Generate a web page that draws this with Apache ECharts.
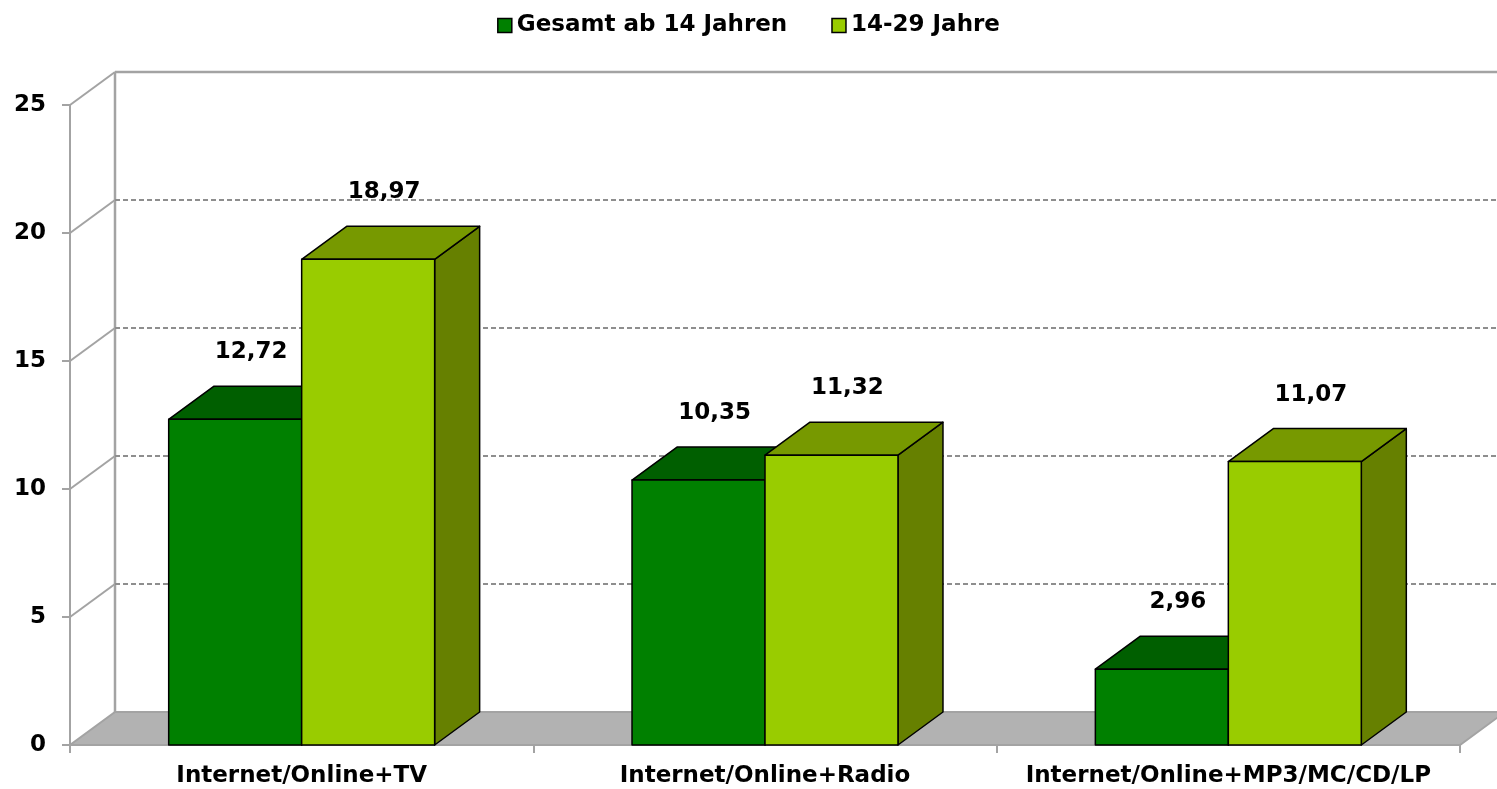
<!DOCTYPE html>
<html>
<head>
<meta charset="utf-8">
<title>Internet parallel</title>
<script src="https://cdn.jsdelivr.net/npm/echarts@6/dist/echarts.min.js"></script>
<style>
	* { margin: 0; padding: 0; }
	#main { width: 1497px; height: 789px; }
</style>
</head>
<body>
<div id="main"></div>
<script>
// Daten
var categories = ['Internet/Online+TV', 'Internet/Online+Radio', 'Internet/Online+MP3/MC/CD/LP'];
var seriesNames = ['Gesamt ab 14 Jahren', '14-29 Jahre'];
var gesamt = [12.72, 10.35, 2.96];
var jung = [18.97, 11.32, 11.07];
var yTicks = [0, 5, 10, 15, 20, 25];

// 3D-Tiefe und Balkenbreite
var DX = 45, DY = 33;
var BAR = 0.287;
var FONT = 'DejaVu Sans';
var FS = 23;
var GREY = '#a3a3a3';

function fmt(v) {
	return v.toFixed(2).replace('.', ',');
}

// Wände, Boden und Gitterlinien
function renderWall(params, api) {
	var cs = params.coordSys;
	var v = api.value(1);
	var y = api.coord([0, v])[1];
	var x0 = cs.x, x1 = cs.x + cs.width;
	var children = [];
	if (v === 0) {
		children.push({
			type: 'polygon',
			shape: { points: [[x0, y], [x1, y], [x1 + DX, y - DY], [x0 + DX, y - DY]] },
			style: { fill: '#b2b2b2', stroke: GREY, lineWidth: 2 }
		});
		children.push({
			type: 'line',
			shape: { x1: x0 + DX, y1: y - DY, x2: x0 + DX, y2: cs.y - DY },
			style: { stroke: GREY, lineWidth: 2.5 }
		});
	} else {
		var top = v === yTicks[yTicks.length - 1];
		children.push({
			type: 'line',
			shape: { x1: x0, y1: y, x2: x0 + DX, y2: y - DY },
			style: { stroke: GREY, lineWidth: 2 }
		});
		children.push({
			type: 'line',
			shape: { x1: x0 + DX, y1: y - DY, x2: x1 + DX + 10, y2: y - DY },
			style: top ? { stroke: GREY, lineWidth: 2.5 } : { stroke: '#8e8e8e', lineWidth: 2, lineDash: [5, 3] }
		});
	}
	return { type: 'group', children: children };
}

// Balken als Quader
function makeBar(side, front, topC, rightC) {
	return function (params, api) {
		var cat = api.value(0), val = api.value(1);
		var p = api.coord([cat, val]);
		var b = api.coord([cat, 0]);
		var w = api.size([1, 0])[0] * BAR;
		var x0 = side < 0 ? p[0] - w : p[0];
		var x1 = x0 + w, yt = p[1], yb = b[1];
		var edge = { stroke: '#000', lineWidth: 1.5, lineJoin: 'round' };
		return {
			type: 'group',
			children: [
				{
					type: 'polygon',
					shape: { points: [[x1, yb], [x1 + DX, yb - DY], [x1 + DX, yt - DY], [x1, yt]] },
					style: Object.assign({ fill: rightC }, edge)
				},
				{
					type: 'polygon',
					shape: { points: [[x0, yt], [x0 + DX, yt - DY], [x1 + DX, yt - DY], [x1, yt]] },
					style: Object.assign({ fill: topC }, edge)
				},
				{
					type: 'rect',
					shape: { x: x0, y: yt, width: w, height: yb - yt },
					style: Object.assign({ fill: front }, edge)
				},
				{
					type: 'text',
					style: {
						text: fmt(val),
						x: (x0 + x1) / 2 + 16,
						y: yt - 67,
						align: 'center',
						verticalAlign: 'middle',
						fill: '#000',
						font: 'bold ' + FS + 'px "' + FONT + '"'
					}
				}
			]
		};
	};
}

var myChart = echarts.init(document.getElementById('main'));

var option = {
	animation: false,
	backgroundColor: '#fff',
	legend: {
		data: seriesNames,
		top: 9,
		left: 'center',
		icon: 'rect',
		itemWidth: 14,
		itemHeight: 14,
		itemGap: 44,
		itemStyle: { borderColor: '#000', borderWidth: 1.5 },
		textStyle: { fontFamily: FONT, fontWeight: 'bold', fontSize: FS, color: '#000' }
	},
	grid: { left: 70, right: 37, top: 105, bottom: 44, outerBoundsMode: 'none' },
	xAxis: {
		type: 'category',
		data: categories,
		boundaryGap: true,
		axisLine: { lineStyle: { color: GREY, width: 2 } },
		axisTick: { show: true, interval: 0, length: 8, lineStyle: { color: GREY, width: 2 } },
		axisLabel: { interval: 0, margin: 20, color: '#000', fontFamily: FONT, fontWeight: 'bold', fontSize: FS }
	},
	yAxis: {
		type: 'value',
		min: 0,
		max: 25,
		interval: 5,
		axisLine: { show: true, lineStyle: { color: GREY, width: 2 } },
		axisTick: { show: true, length: 8, lineStyle: { color: GREY, width: 2 } },
		splitLine: { show: false },
		axisLabel: { margin: 24, color: '#000', fontFamily: FONT, fontWeight: 'bold', fontSize: FS }
	},
	series: [
		{
			type: 'custom',
			silent: true,
			renderItem: renderWall,
			data: yTicks.map(function (t) { return [0, t]; }),
			z: 1
		},
		{
			name: seriesNames[0],
			type: 'custom',
			renderItem: makeBar(-1, '#008000', '#005f00', '#006000'),
			itemStyle: { color: '#008000' },
			data: gesamt.map(function (v, i) { return [i, v]; }),
			z: 3
		},
		{
			name: seriesNames[1],
			type: 'custom',
			renderItem: makeBar(1, '#99cc00', '#779900', '#668000'),
			itemStyle: { color: '#99cc00' },
			data: jung.map(function (v, i) { return [i, v]; }),
			z: 4
		}
	]
};

myChart.setOption(option);
</script>
</body>
</html>
